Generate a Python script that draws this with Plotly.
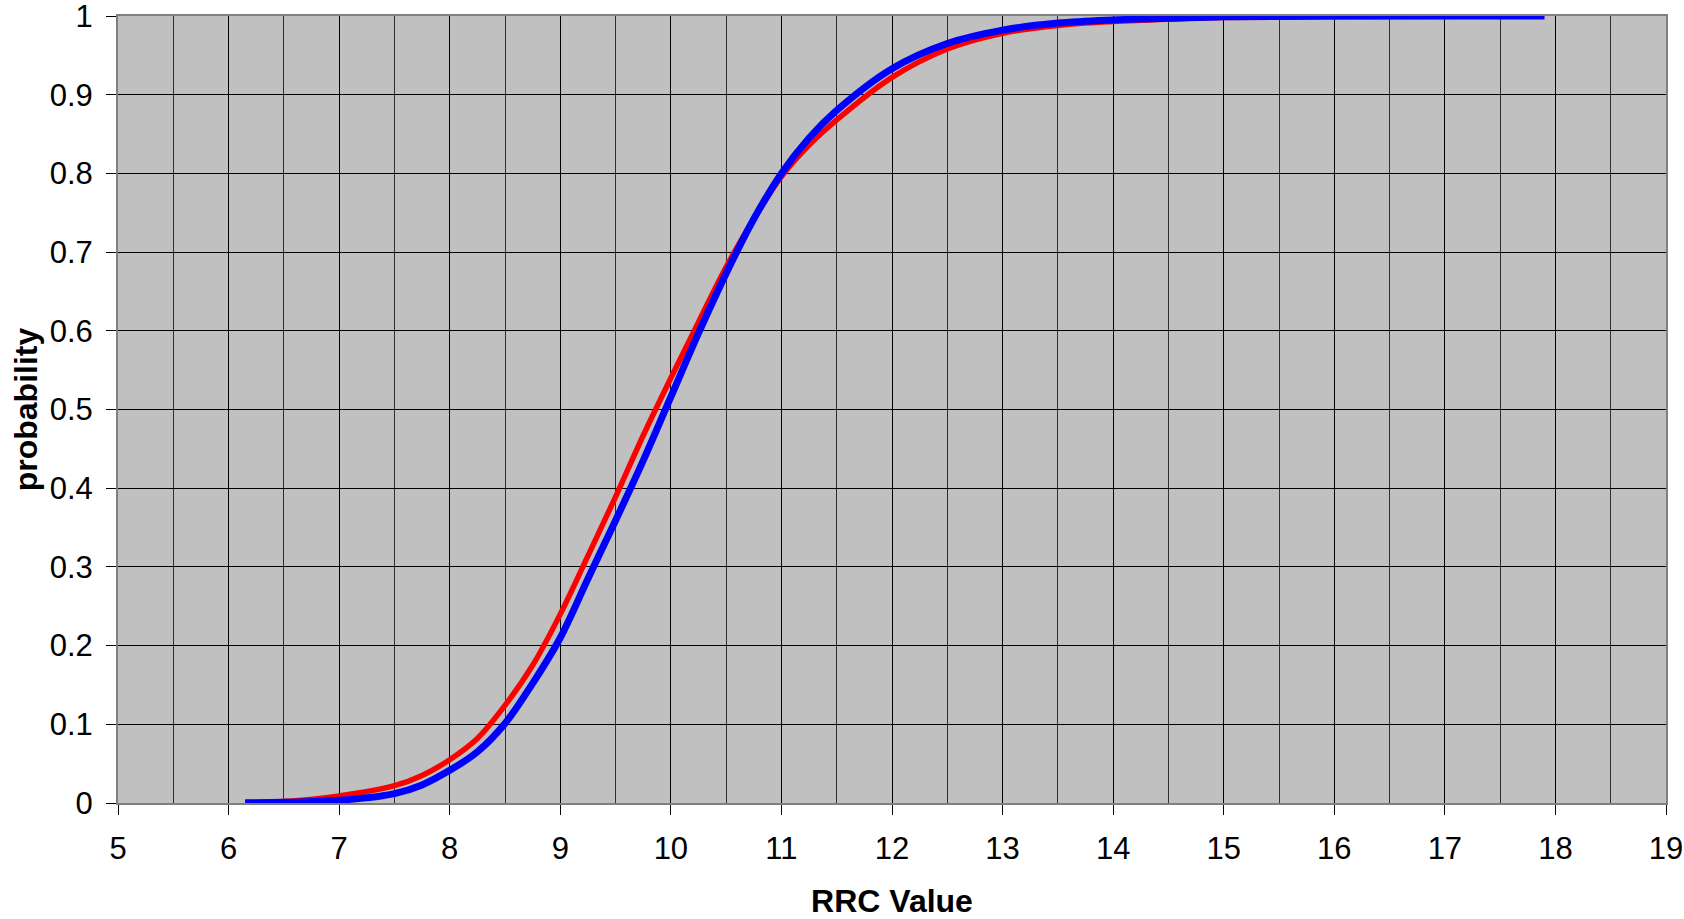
import plotly.graph_objects as go

# Red curve
red_x = [6.15, 6.5, 7.0, 7.5, 7.75, 8.0, 8.25, 8.5, 8.75, 9.0, 9.25, 9.5, 9.75, 10.0, 10.25,
         10.5, 10.75, 11.0, 11.25, 11.5, 12.0, 12.5, 13.0, 13.5, 14.0, 14.5, 15.0, 16.0, 17.9]
red_y = [0.0005, 0.002, 0.009, 0.022, 0.035, 0.055, 0.082, 0.124, 0.175, 0.240, 0.314, 0.389, 0.467, 0.540, 0.611,
         0.681, 0.742, 0.796, 0.836, 0.868, 0.922, 0.958, 0.978, 0.988, 0.993, 0.996, 0.998, 0.999, 1.0]

# Blue curve
blue_x = [6.15, 6.5, 7.0, 7.5, 7.75, 8.0, 8.25, 8.5, 8.75, 9.0, 9.25, 9.5, 9.75, 10.0, 10.25,
          10.5, 10.75, 11.0, 11.25, 11.5, 12.0, 12.5, 13.0, 13.5, 14.0, 14.5, 15.0, 16.0, 17.9]
blue_y = [0.0003, 0.0008, 0.0034, 0.012, 0.023, 0.0415, 0.065, 0.101, 0.152, 0.210, 0.285, 0.359, 0.435, 0.516, 0.597,
          0.673, 0.742, 0.800, 0.845, 0.880, 0.933, 0.965, 0.982, 0.991, 0.995, 0.997, 0.999, 1.0, 1.0]

x_ticks = list(range(5, 20))
y_ticks = [0, 0.1, 0.2, 0.3, 0.4, 0.5, 0.6, 0.7, 0.8, 0.9, 1]
y_labels = ["0", "0.1", "0.2", "0.3", "0.4", "0.5", "0.6", "0.7", "0.8", "0.9", "1"]

fig = go.Figure()
fig.add_trace(go.Scatter(x=red_x, y=red_y, mode="lines",
                         line=dict(color="#FF0000", width=5.5, shape="spline", smoothing=1.0),
                         showlegend=False))
fig.add_trace(go.Scatter(x=blue_x, y=blue_y, mode="lines",
                         line=dict(color="#0000FF", width=7, shape="spline", smoothing=1.0),
                         showlegend=False))

font_family = "Liberation Sans, Arial, sans-serif"

fig.update_layout(
    width=1684, height=919,
    margin=dict(l=118, r=18, t=16, b=116, pad=0),
    paper_bgcolor="white",
    plot_bgcolor="#C0C0C0",
    font=dict(family=font_family, color="black", size=31),
    xaxis=dict(
        range=[5, 19], tickvals=x_ticks, ticktext=[str(v) for v in x_ticks],
        showgrid=True, gridcolor="black", gridwidth=1,
        minor=dict(dtick=0.5, showgrid=True, gridcolor="#303030", gridwidth=1),
        ticks="outside", ticklen=10, tickcolor="black", tickwidth=1,
        ticklabelstandoff=7, ticklabeloverflow="allow",
        showline=True, linecolor="#808080", linewidth=2, mirror=True,
        zeroline=False, automargin=False,
        tickfont=dict(size=31),
        title=dict(text="<b>RRC Value</b>", font=dict(size=32), standoff=27),
    ),
    yaxis=dict(
        range=[0, 1], tickvals=y_ticks, ticktext=y_labels,
        showgrid=True, gridcolor="black", gridwidth=1,
        ticks="outside", ticklen=10, tickcolor="black", tickwidth=1,
        ticklabelstandoff=7, ticklabeloverflow="allow",
        showline=True, linecolor="#808080", linewidth=2, mirror=True,
        zeroline=False, automargin=False,
        tickfont=dict(size=31),
        title=dict(text="<b>probability</b>", font=dict(size=32), standoff=2),
    ),
)

fig.write_html(
    "out.html",
    config={"displayModeBar": False},
    post_script="document.body.style.margin='0';document.body.style.overflow='hidden';",
)
